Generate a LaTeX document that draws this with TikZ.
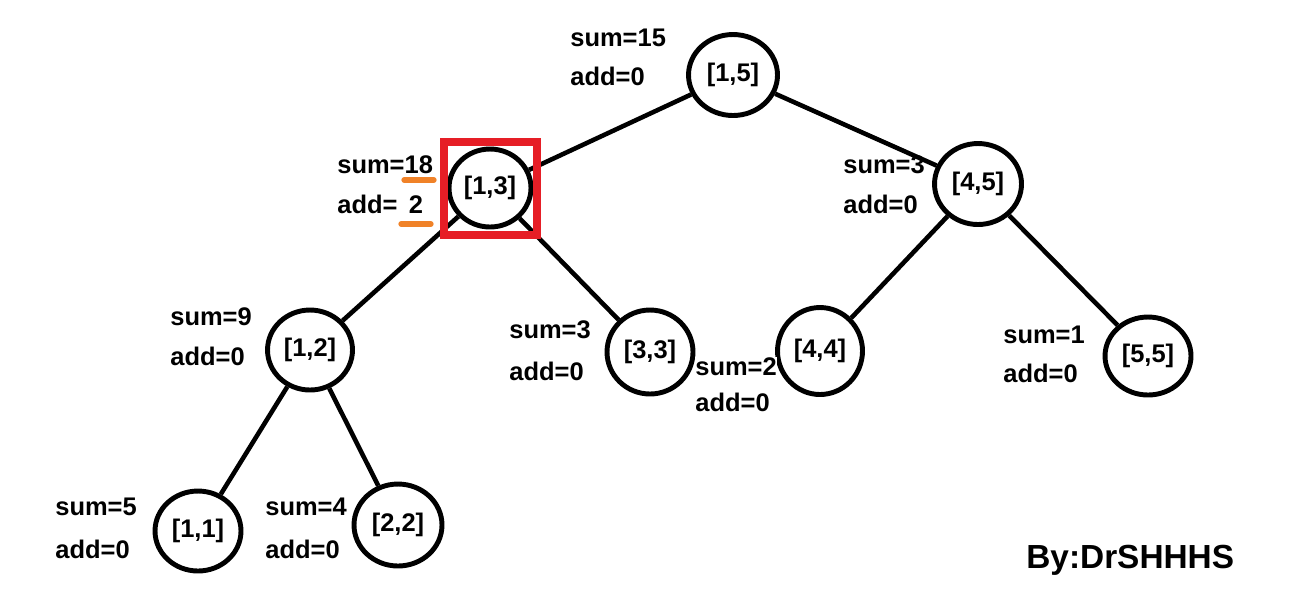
\documentclass[tikz,border=0pt]{standalone}
\usepackage{fontspec}
\setmainfont{Liberation Sans}
\usetikzlibrary{shapes.geometric}
\definecolor{markred}{RGB}{230,30,38}
\definecolor{markorange}{RGB}{240,130,40}

\begin{document}
\begin{tikzpicture}[x=0.02cm,y=-0.02cm,
  seg/.style={draw,ellipse,line width=2.8pt,inner sep=0pt,font=\bfseries\fontsize{14.5}{16}\selectfont},
  info/.style={anchor=base west,inner sep=0pt,font=\bfseries\fontsize{14.5}{16}\selectfont},
  link/.style={line width=2.6pt},
  underl/.style={markorange,line width=3pt,line cap=round}]
  \useasboundingbox (0,0) rectangle (1300,610);
  % segment tree nodes
  \node[seg,minimum width=1.78cm,minimum height=1.62cm] (n15) at (733,75) {[1,5]};
  \node[seg,minimum width=1.64cm,minimum height=1.56cm] (n13) at (490,188) {[1,3]};
  \node[seg,minimum width=1.74cm,minimum height=1.62cm] (n45) at (978,184) {[4,5]};
  \node[seg,minimum width=1.70cm,minimum height=1.60cm] (n12) at (310,350) {[1,2]};
  \node[seg,minimum width=1.72cm,minimum height=1.68cm] (n33) at (650,352) {[3,3]};
  \node[seg,minimum width=1.70cm,minimum height=1.74cm] (n44) at (820,351) {[4,4]};
  \node[seg,minimum width=1.72cm,minimum height=1.56cm] (n55) at (1148,356) {[5,5]};
  \node[seg,minimum width=1.72cm,minimum height=1.60cm] (n11) at (198,531) {[1,1]};
  \node[seg,minimum width=1.76cm,minimum height=1.64cm] (n22) at (398,525) {[2,2]};
  % edges
  \draw[link] (n15) -- (n13);
  \draw[link] (n15) -- (n45);
  \draw[link] (n13) -- (n12);
  \draw[link] (n13) -- (n33);
  \draw[link] (n45) -- (n44);
  \draw[link] (n45) -- (n55);
  \draw[link] (n12) -- (n11);
  \draw[link] (n12) -- (n22);
  % sum / add
  \node[info] (s15) at (570,46) {sum=15};
  \node[info] (a15) at (570,85) {add=0};
  \node[info] (s13) at (337,173) {sum=18};
  \node[info] (a13) at (337,213) {add=\hspace{0.45em}2};
  \node[info] (s45) at (843,173) {sum=3};
  \node[info] (a45) at (843,213) {add=0};
  \node[info] (s12) at (170,325) {sum=9};
  \node[info] (a12) at (170,365) {add=0};
  \node[info] (s33) at (509,338) {sum=3};
  \node[info] (a33) at (509,380) {add=0};
  \node[info,fill=white] (s44) at (695,375) {sum=2};
  \node[info] (a44) at (695,411) {add=0};
  \node[info] (s55) at (1003,343) {sum=1};
  \node[info] (a55) at (1003,382) {add=0};
  \node[info] (s11) at (55,515) {sum=5};
  \node[info] (a11) at (55,558) {add=0};
  \node[info] (s22) at (265,515) {sum=4};
  \node[info] (a22) at (265,558) {add=0};
  % changed values
  \draw[underl] (404,180) -- (434,180);
  \draw[underl] (401,224) -- (431,224);
  \draw[markred,line width=4.6pt] (444,142) rectangle (537,235);
  \node[anchor=base west,inner sep=0pt,font=\bfseries\fontsize{19}{22}\selectfont] (credit) at (1026,568) {By:DrSHHHS};
\end{tikzpicture}
\end{document}
